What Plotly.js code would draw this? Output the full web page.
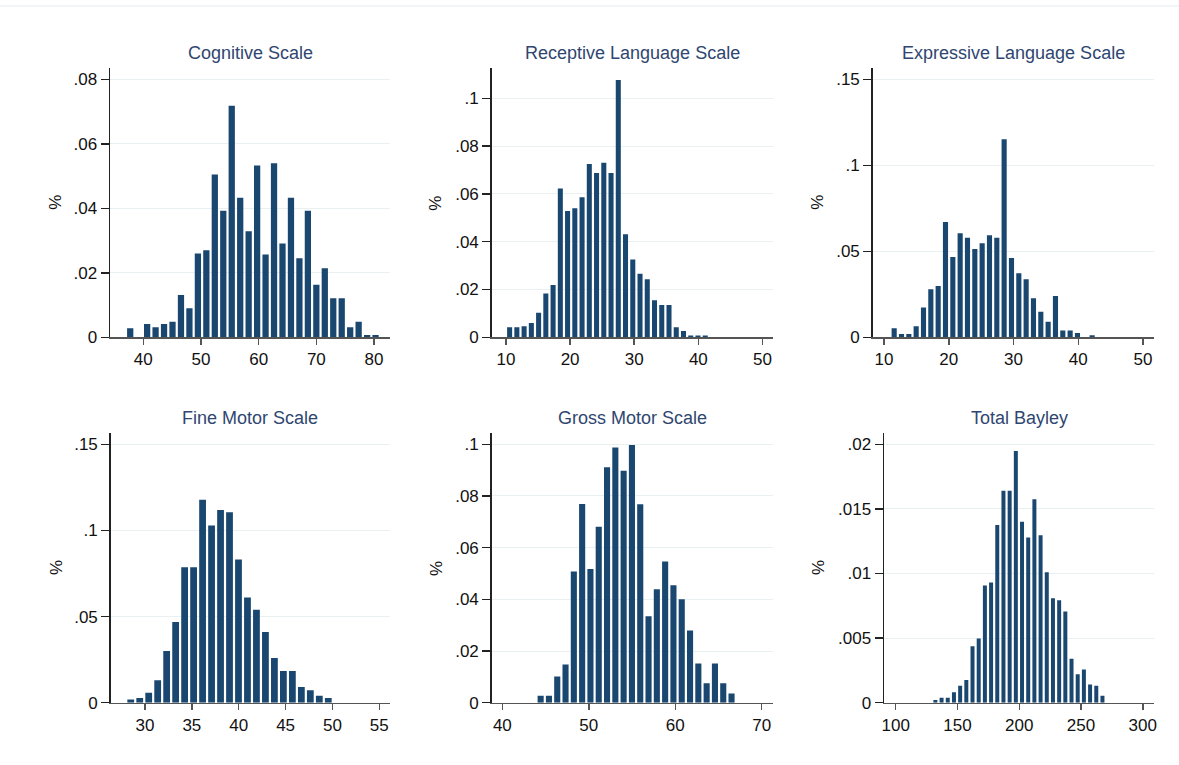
<!DOCTYPE html>
<html>
<head>
<meta charset="utf-8">
<script src="https://cdn.plot.ly/plotly-3.0.1.min.js"></script>
<style>html,body{margin:0;padding:0;background:#fff;}#chart{width:1179px;height:765px;}</style>
</head>
<body>
<div id="chart"></div>
<script>
// ---- Data (density) ----
const titles = ["Cognitive Scale", "Receptive Language Scale", "Expressive Language Scale",
                "Fine Motor Scale", "Gross Motor Scale", "Total Bayley"];

// Histogram bins: first bin edge and bin width for each panel
const binStart = [37, 10, 11, 28, 43.95, 129.6];
const binWidth = [1.4667, 1.13, 1.1325, 0.958, 0.96, 5.01];

const cognitive = [0.0028, 0, 0.0041, 0.0031, 0.0041, 0.0048, 0.0131, 0.0090, 0.0260, 0.0270,
  0.0505, 0.0392, 0.0718, 0.0433, 0.0329, 0.0533, 0.0257, 0.0540, 0.0291, 0.0433,
  0.0245, 0.0392, 0.0163, 0.0214, 0.0121, 0.0121, 0.0031, 0.0048, 0.0007, 0.0007];
const receptive = [0.0042, 0.0042, 0.0046, 0.0060, 0.0103, 0.0183, 0.0219, 0.0623, 0.0529, 0.0540,
  0.0586, 0.0725, 0.0688, 0.0731, 0.0688, 0.1077, 0.0431, 0.0326, 0.0266, 0.0243,
  0.0155, 0.0135, 0.0135, 0.0042, 0.0026, 0.0008, 0.0008, 0.0008];
const expressive = [0.0052, 0.0019, 0.0019, 0.0064, 0.0174, 0.0279, 0.0298, 0.0671, 0.0467, 0.0605,
  0.0579, 0.0514, 0.0547, 0.0593, 0.0579, 0.1151, 0.0461, 0.0372, 0.0337, 0.0227,
  0.0149, 0.0091, 0.0240, 0.0039, 0.0039, 0.0025, 0, 0.0012];
const fineMotor = [0.0019, 0.0027, 0.0058, 0.0130, 0.0300, 0.0468, 0.0787, 0.0787, 0.1178, 0.1029,
  0.1118, 0.1106, 0.0832, 0.0611, 0.0540, 0.0410, 0.0259, 0.0184, 0.0184, 0.0091,
  0.0072, 0.0041, 0.0027];
const grossMotor = [0.0027, 0.0027, 0.0101, 0.0148, 0.0508, 0.0769, 0.0517, 0.0681, 0.0911, 0.0988,
  0.0898, 0.0997, 0.0768, 0.0335, 0.0439, 0.0546, 0.0455, 0.0400, 0.0279, 0.0152,
  0.0075, 0.0152, 0.0075, 0.0036];
const totalBayley = [0.00021, 0.00039, 0.00039, 0.0008, 0.00132, 0.00176, 0.00437, 0.00496, 0.00907, 0.0093,
  0.01375, 0.01641, 0.01641, 0.01948, 0.0140, 0.01279, 0.01574, 0.01295, 0.0101, 0.00809,
  0.00793, 0.00705, 0.00341, 0.0022, 0.00256, 0.0014, 0.00132, 0.00054];
const series = [cognitive, receptive, expressive, fineMotor, grossMotor, totalBayley];

// Tick values / labels
const xTicks = [[40, 50, 60, 70, 80], [10, 20, 30, 40, 50], [10, 20, 30, 40, 50],
                [30, 35, 40, 45, 50, 55], [40, 50, 60, 70], [100, 150, 200, 250, 300]];
const yTickVals = [[0, 0.02, 0.04, 0.06, 0.08], [0, 0.02, 0.04, 0.06, 0.08, 0.1], [0, 0.05, 0.1, 0.15],
                   [0, 0.05, 0.1, 0.15], [0, 0.02, 0.04, 0.06, 0.08, 0.1], [0, 0.005, 0.01, 0.015, 0.02]];
const yTickText = [["0", ".02", ".04", ".06", ".08"], ["0", ".02", ".04", ".06", ".08", ".1"], ["0", ".05", ".1", ".15"],
                   ["0", ".05", ".1", ".15"], ["0", ".02", ".04", ".06", ".08", ".1"], ["0", ".005", ".01", ".015", ".02"]];
const yLabel = "%";

// ---- Layout geometry (pixels) ----
const W = 1179, H = 765;
const xDomPx = [[110, 390], [491.7, 772.7], [872.7, 1154], [110.7, 390], [491.7, 772.7], [884, 1154]];
const yDomPx = [[68, 337.3], [68, 337.3], [68, 337.3], [433.3, 702.7], [433.3, 702.7], [433.3, 702.7]];
const xRanges = [[34.23, 82.77], [7.77, 51.6], [8.25, 51.7], [26.34, 56.14], [38.77, 71.27], [90.5, 309.1]];
const yRanges = [[0, 0.0835], [0, 0.1127], [0, 0.1566], [0, 0.1564], [0, 0.10426], [0, 0.02085]];
const titleYPx = [53, 53, 53, 418, 418, 418];
const pctXPx = [56, 436, 818, 56, 436, 818];
const GAP_PX = 2.2; // white gap between adjacent bars

const FONT = "Liberation Sans, Arial, sans-serif";
const BAR = "#1a476f";
const TITLE_COL = "#2f4670";

const traces = [];
const layout = {
  width: W, height: H,
  margin: {l: 0, r: 0, t: 0, b: 0},
  paper_bgcolor: "#ffffff", plot_bgcolor: "#ffffff",
  showlegend: false,
  font: {family: FONT, size: 17, color: "#111111"},
  annotations: [],
  shapes: [{type: "line", xref: "paper", yref: "paper", x0: 0, x1: 1, y0: 1 - 6 / H, y1: 1 - 6 / H,
            line: {color: "#e3ebef", width: 1}}]
};

for (let i = 0; i < 6; i++) {
  const n = series[i].length;
  const xs = [];
  for (let k = 0; k < n; k++) xs.push(binStart[i] + (k + 0.5) * binWidth[i]);
  const ax = i === 0 ? "" : String(i + 1);
  const pxPerUnit = (xDomPx[i][1] - xDomPx[i][0]) / (xRanges[i][1] - xRanges[i][0]);
  traces.push({
    type: "bar", x: xs, y: series[i], width: binWidth[i] - GAP_PX / pxPerUnit,
    xaxis: "x" + ax, yaxis: "y" + ax,
    marker: {color: BAR, line: {width: 0}},
    hoverinfo: "x+y"
  });
  const xd = [xDomPx[i][0] / W, xDomPx[i][1] / W];
  const yd = [1 - yDomPx[i][1] / H, 1 - yDomPx[i][0] / H];
  layout["xaxis" + ax] = {
    domain: xd, range: xRanges[i], anchor: "y" + ax,
    tickmode: "array", tickvals: xTicks[i], ticktext: xTicks[i].map(String),
    ticks: "outside", ticklen: 6, tickwidth: 1.5, tickcolor: "#555555",
    showline: true, linecolor: "#555555", linewidth: 1.5,
    showgrid: false, zeroline: false,
    tickfont: {family: FONT, size: 17, color: "#111111"}
  };
  layout["yaxis" + ax] = {
    domain: yd, range: yRanges[i], anchor: "x" + ax,
    tickmode: "array", tickvals: yTickVals[i], ticktext: yTickText[i],
    ticks: "outside", ticklen: 8, tickwidth: 1.5, tickcolor: "#222222",
    showline: true, linecolor: "#222222", linewidth: 1.5,
    showgrid: true, gridcolor: "#e8f0f2", gridwidth: 1, zeroline: false,
    tickfont: {family: FONT, size: 17, color: "#111111"}
  };
  layout.annotations.push({
    text: titles[i], xref: "paper", yref: "paper",
    x: (xd[0] + xd[1]) / 2, y: 1 - titleYPx[i] / H,
    xanchor: "center", yanchor: "middle", showarrow: false,
    font: {family: FONT, size: 18, color: TITLE_COL}
  });
  layout.annotations.push({
    text: yLabel, xref: "paper", yref: "paper",
    x: pctXPx[i] / W, y: (yd[0] + yd[1]) / 2,
    xanchor: "center", yanchor: "middle", textangle: -90, showarrow: false,
    font: {family: FONT, size: 17, color: "#111111"}
  });
}

Plotly.newPlot("chart", traces, layout, {displayModeBar: false, staticPlot: true});
</script>
</body>
</html>
